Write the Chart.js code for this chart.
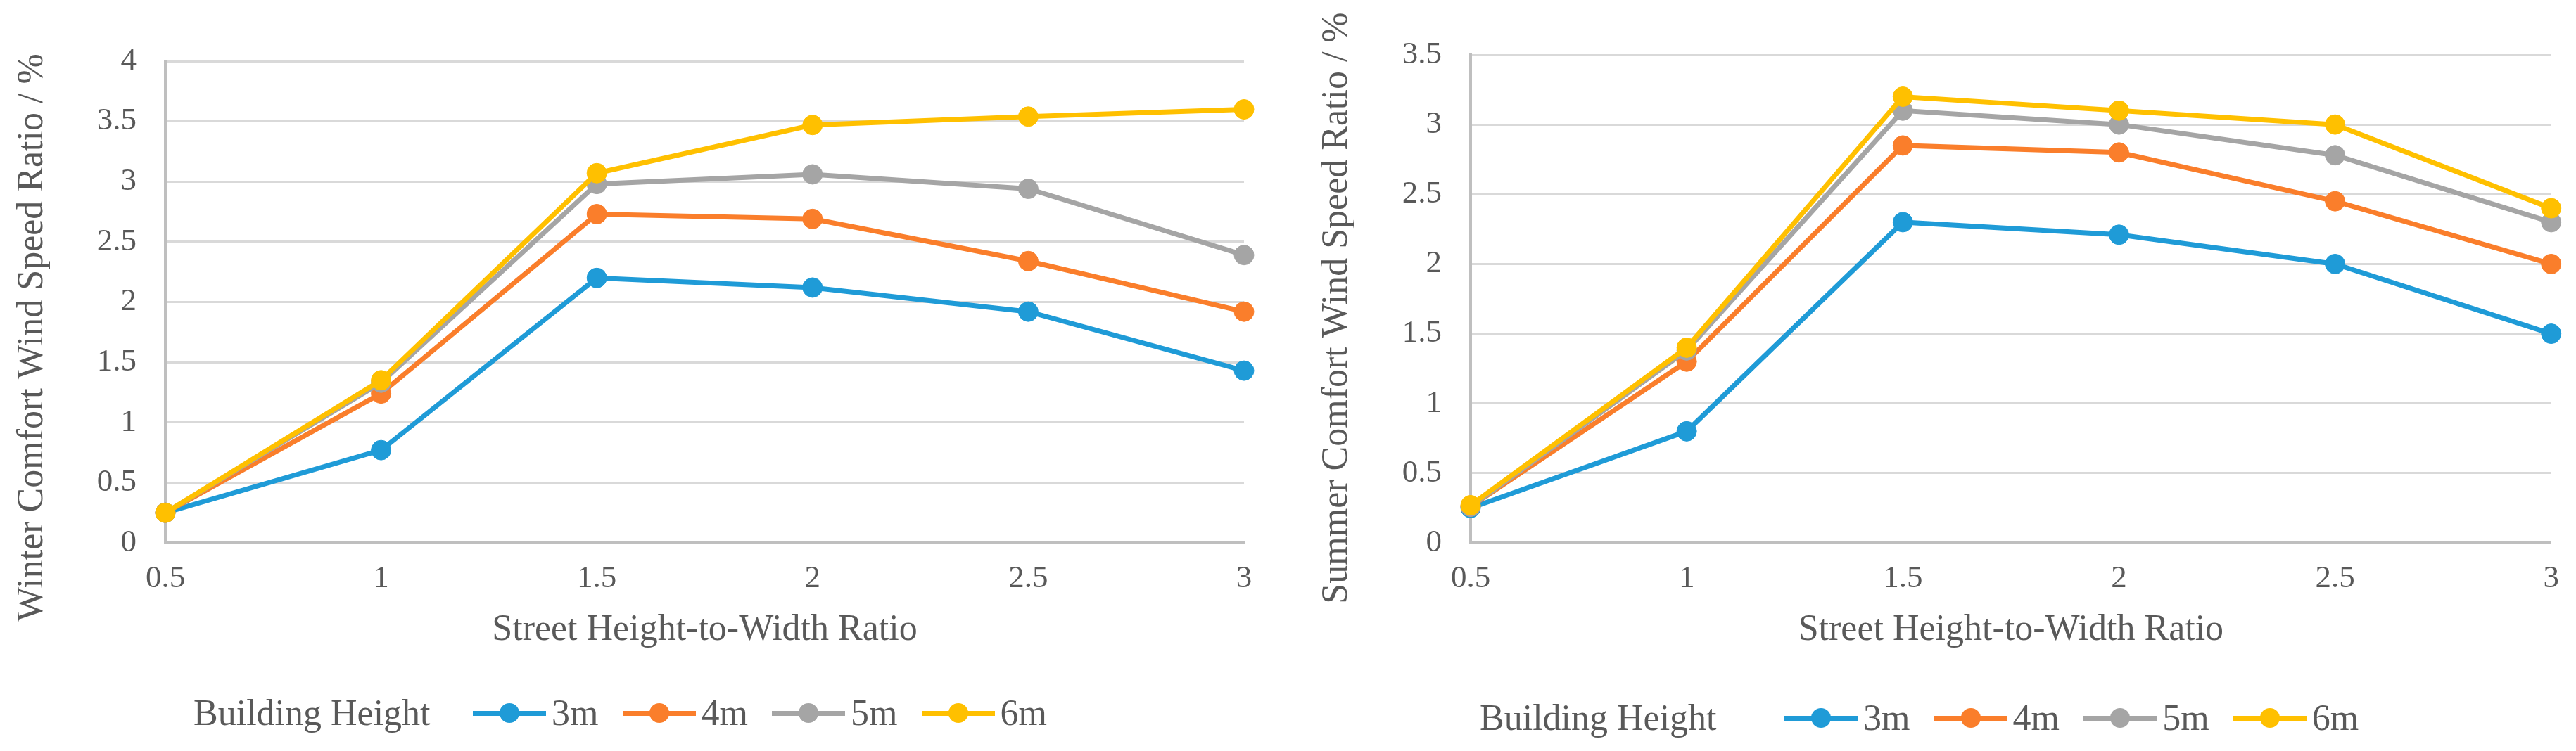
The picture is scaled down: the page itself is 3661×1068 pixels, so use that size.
<!DOCTYPE html>
<html><head><meta charset="utf-8">
<script src="https://cdn.jsdelivr.net/npm/chart.js@4/dist/chart.umd.min.js"></script>
<style>
html,body{margin:0;padding:0;background:#fff;}
body{width:3661px;height:1068px;position:relative;overflow:hidden;font-family:"Liberation Serif","Times New Roman",serif;}
canvas{position:absolute;top:0;}
#cL{left:0;}
#cR{left:1830px;}
.leg{position:absolute;font-size:52px;color:#595959;line-height:1;white-space:nowrap;transform:translateY(-50%);}
.ico{position:absolute;width:104px;height:30px;transform:translateY(-50%);}
.ico .ln{position:absolute;left:0;right:0;top:11.5px;height:7px;}
.ico .dot{position:absolute;left:38px;top:1px;width:28px;height:28px;border-radius:50%;}
</style>
</head><body>
<canvas id="cL" width="1830" height="1068"></canvas>
<canvas id="cR" width="1831" height="1068"></canvas>
<div id="legends"></div>
<script>
// ---- data ----
const categories = ['0.5', '1', '1.5', '2', '2.5', '3'];
const seriesNames = ['3m', '4m', '5m', '6m'];
const seriesColors = ['#1F9BD7', '#FA7E2B', '#A5A5A5', '#FFC000'];
const legendTitle = 'Building Height';
const xTitle = 'Street Height-to-Width Ratio';
const winterTitle = 'Winter Comfort Wind Speed Ratio / %';
const summerTitle = 'Summer Comfort Wind Speed Ratio / %';

const winter3m = [0.25, 0.77, 2.20, 2.12, 1.92, 1.43];
const winter4m = [0.25, 1.24, 2.73, 2.69, 2.34, 1.92];
const winter5m = [0.25, 1.33, 2.98, 3.06, 2.94, 2.39];
const winter6m = [0.25, 1.35, 3.07, 3.47, 3.54, 3.60];

const summer3m = [0.25, 0.80, 2.30, 2.21, 2.00, 1.50];
const summer4m = [0.26, 1.30, 2.85, 2.80, 2.45, 2.00];
const summer5m = [0.26, 1.38, 3.10, 3.00, 2.78, 2.30];
const summer6m = [0.27, 1.40, 3.20, 3.10, 3.00, 2.40];

const winterAxis = { min: 0, max: 4, step: 0.5 };
const summerAxis = { min: 0, max: 3.5, step: 0.5 };

// ---- chart ----
Chart.defaults.font.family = '"Liberation Serif", "Times New Roman", serif';
Chart.defaults.color = '#595959';

const yTitlePlugin = {
  id: 'yTitle',
  afterDraw(chart, args, opts) {
    const ctx = chart.ctx;
    ctx.save();
    ctx.translate(opts.x, opts.y);
    ctx.rotate(-Math.PI / 2);
    ctx.font = '52px "Liberation Serif"';
    ctx.fillStyle = '#595959';
    ctx.textAlign = 'center';
    ctx.textBaseline = 'middle';
    ctx.fillText(opts.text, 0, 0);
    ctx.restore();
  }
};

function makeChart(id, series, axis, title, g) {
  const datasets = series.map((vals, i) => ({
    label: seriesNames[i],
    data: vals,
    borderColor: seriesColors[i],
    backgroundColor: seriesColors[i],
    pointBackgroundColor: seriesColors[i],
    pointBorderColor: seriesColors[i],
    borderWidth: 7,
    pointRadius: 14,
    pointBorderWidth: 1,
    tension: 0,
    order: series.length - i
  }));
  return new Chart(document.getElementById(id), {
    type: 'line',
    data: { labels: categories, datasets },
    plugins: [yTitlePlugin],
    options: {
      responsive: false,
      animation: false,
      devicePixelRatio: 1,
      layout: { padding: { left: 0, right: g.padRight, top: g.padTop, bottom: 0 } },
      plugins: {
        legend: { display: false },
        tooltip: { enabled: false },
        yTitle: { text: title, x: g.titleX, y: g.titleY }
      },
      scales: {
        x: {
          offset: false,
          grid: { display: false, drawTicks: false },
          border: { display: true, color: '#BFBFBF', width: 4 },
          ticks: { font: { size: 45 }, padding: 24, color: '#595959', maxRotation: 0 },
          title: { display: true, text: xTitle, font: { size: 52 }, color: '#595959', padding: { top: 0, bottom: 140 } },
          afterFit(s) { s.height = 296; }
        },
        y: {
          min: axis.min, max: axis.max,
          ticks: {
            stepSize: axis.step, font: { size: 45 }, padding: 41, color: '#595959',
            callback: (v) => String(Math.round(v * 100) / 100)
          },
          grid: { color: '#D9D9D9', lineWidth: 3, drawTicks: false },
          border: { display: true, color: '#BFBFBF', width: 4 },
          afterFit(s) { s.width = g.yWidth; }
        }
      }
    }
  });
}

makeChart('cL', [winter3m, winter4m, winter5m, winter6m], winterAxis, winterTitle,
  { yWidth: 235, padRight: 62, padTop: 87, titleX: 46, titleY: 480 });
makeChart('cR', [summer3m, summer4m, summer5m, summer6m], summerAxis, summerTitle,
  { yWidth: 260, padRight: 34, padTop: 78, titleX: 70, titleY: 438 });

// ---- legends (HTML, built from the series arrays) ----
function buildLegend(cfg) {
  const host = document.getElementById('legends');
  const t = document.createElement('div');
  t.className = 'leg';
  t.style.left = cfg.titleLeft + 'px';
  t.style.top = cfg.y + 'px';
  t.textContent = legendTitle;
  host.appendChild(t);
  seriesNames.forEach((name, i) => {
    const x = cfg.firstIcon + i * cfg.pitch;
    const ico = document.createElement('div');
    ico.className = 'ico';
    ico.style.left = x + 'px';
    ico.style.top = cfg.y + 'px';
    ico.innerHTML = '<div class="ln" style="background:' + seriesColors[i] + '"></div><div class="dot" style="background:' + seriesColors[i] + '"></div>';
    host.appendChild(ico);
    const lab = document.createElement('div');
    lab.className = 'leg';
    lab.style.left = (x + 112) + 'px';
    lab.style.top = cfg.y + 'px';
    lab.textContent = name;
    host.appendChild(lab);
  });
}
buildLegend({ titleLeft: 275, firstIcon: 672, pitch: 212.5, y: 1014 });
buildLegend({ titleLeft: 2103, firstIcon: 2536, pitch: 212.6, y: 1021 });
</script>
</body></html>
